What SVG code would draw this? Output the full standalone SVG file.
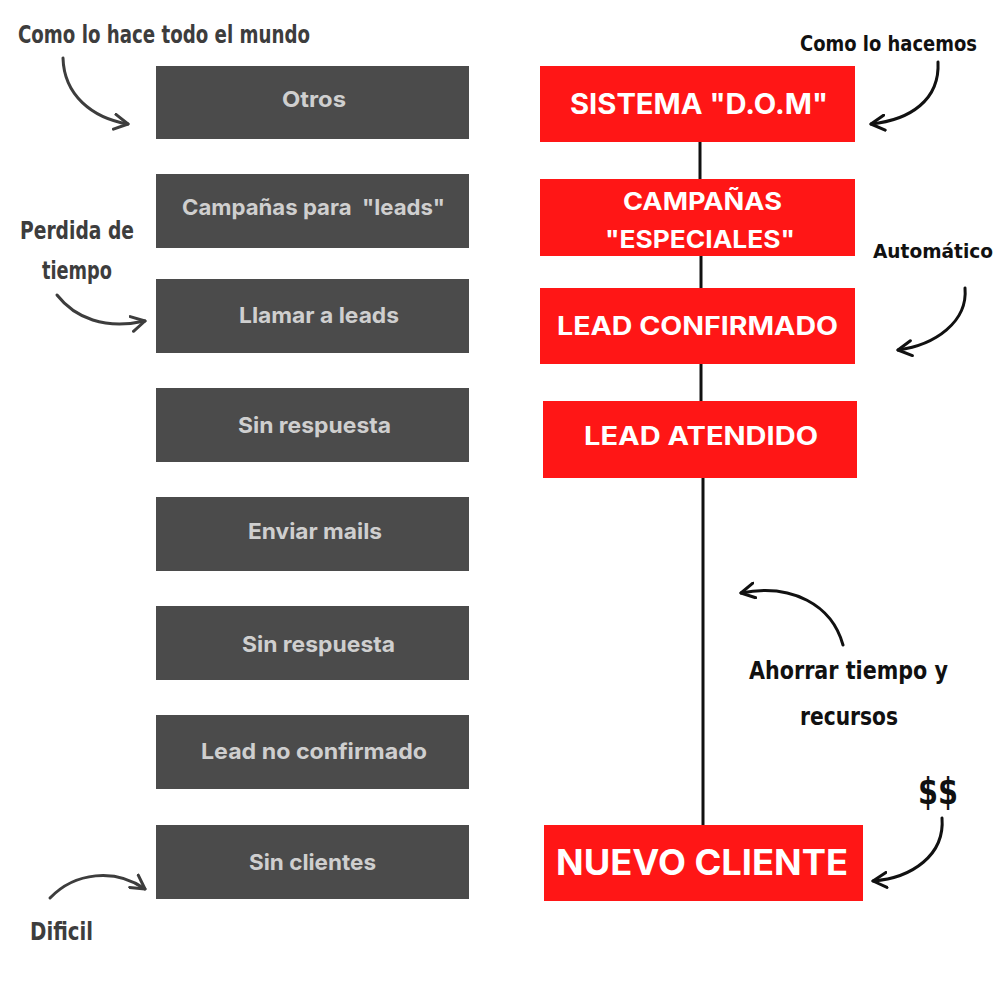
<svg xmlns="http://www.w3.org/2000/svg" width="1000" height="1000" viewBox="0 0 1000 1000">
<style>
.gbox{fill:#4b4b4b}
.gtxt{font-family:Inter,"Liberation Sans",sans-serif;font-weight:700;font-size:22px;fill:#cfcfcf;white-space:pre}
.rbox{fill:#ff1616}
.rtxt{font-family:Inter,"Liberation Sans",sans-serif;font-weight:700;fill:#ffffff}
.hand{font-family:"DejaVu Sans Condensed","DejaVu Sans",sans-serif;font-weight:700}
.hg{fill:#3d3d3d}
.hb{fill:#111111}
.conn{stroke:#111;stroke-width:3;fill:none}
.arr{fill:none;stroke-width:3;stroke-linecap:round}
.ag{stroke:#3d3d3d}
.ab{stroke:#111}
</style>
<defs>
<marker id="mg" viewBox="0 0 12 12" refX="10" refY="6" markerWidth="6" markerHeight="6" orient="auto" markerUnits="strokeWidth">
<path d="M1,1 L10,6 L1,11" fill="none" stroke="#3d3d3d" stroke-width="2" stroke-linecap="round" stroke-linejoin="round"/>
</marker>
<marker id="mb" viewBox="0 0 12 12" refX="10" refY="6" markerWidth="6" markerHeight="6" orient="auto" markerUnits="strokeWidth">
<path d="M1,1 L10,6 L1,11" fill="none" stroke="#111" stroke-width="2" stroke-linecap="round" stroke-linejoin="round"/>
</marker>
</defs>
<rect width="1000" height="1000" fill="#ffffff"/>

<g id="connectors">
<line class="conn" x1="700" y1="142" x2="700" y2="179"/>
<line class="conn" x1="701" y1="256" x2="701" y2="288"/>
<line class="conn" x1="701" y1="364" x2="701" y2="401"/>
<line class="conn" x1="703" y1="478" x2="703" y2="825"/>
</g>

<g id="left-boxes">
<g id="g1"><rect class="gbox" x="156" y="66" width="313" height="73"/><text class="gtxt" x="282" y="107" textLength="64" lengthAdjust="spacingAndGlyphs">Otros</text></g>
<g id="g2"><rect class="gbox" x="156" y="174" width="313" height="74"/><text class="gtxt" x="182" y="215" textLength="263" lengthAdjust="spacingAndGlyphs">Campañas para  "leads"</text></g>
<g id="g3"><rect class="gbox" x="156" y="279" width="313" height="74"/><text class="gtxt" x="239" y="323" textLength="160" lengthAdjust="spacingAndGlyphs">Llamar a leads</text></g>
<g id="g4"><rect class="gbox" x="156" y="388" width="313" height="74"/><text class="gtxt" x="238" y="433" textLength="153" lengthAdjust="spacingAndGlyphs">Sin respuesta</text></g>
<g id="g5"><rect class="gbox" x="156" y="497" width="313" height="74"/><text class="gtxt" x="248" y="539" textLength="134" lengthAdjust="spacingAndGlyphs">Enviar mails</text></g>
<g id="g6"><rect class="gbox" x="156" y="606" width="313" height="74"/><text class="gtxt" x="242" y="652" textLength="153" lengthAdjust="spacingAndGlyphs">Sin respuesta</text></g>
<g id="g7"><rect class="gbox" x="156" y="715" width="313" height="74"/><text class="gtxt" x="201" y="759" textLength="226" lengthAdjust="spacingAndGlyphs">Lead no confirmado</text></g>
<g id="g8"><rect class="gbox" x="156" y="825" width="313" height="74"/><text class="gtxt" x="249" y="870" textLength="127" lengthAdjust="spacingAndGlyphs">Sin clientes</text></g>
</g>

<g id="right-boxes">
<g id="r1"><rect class="rbox" x="540" y="66" width="315" height="76"/><text class="rtxt" x="570" y="114" font-size="28" textLength="258" lengthAdjust="spacingAndGlyphs">SISTEMA "D.O.M"</text></g>
<g id="r2"><rect class="rbox" x="540" y="179" width="315" height="77"/><text class="rtxt" x="623" y="210" font-size="24" textLength="159" lengthAdjust="spacingAndGlyphs">CAMPAÑAS</text><text class="rtxt" x="605" y="248" font-size="24" textLength="190" lengthAdjust="spacingAndGlyphs">"ESPECIALES"</text></g>
<g id="r3"><rect class="rbox" x="540" y="288" width="315" height="76"/><text class="rtxt" x="557" y="335" font-size="25" textLength="281" lengthAdjust="spacingAndGlyphs">LEAD CONFIRMADO</text></g>
<g id="r4"><rect class="rbox" x="543" y="401" width="314" height="77"/><text class="rtxt" x="584" y="445" font-size="25" textLength="234" lengthAdjust="spacingAndGlyphs">LEAD ATENDIDO</text></g>
<g id="r5"><rect class="rbox" x="544" y="825" width="319" height="76"/><text class="rtxt" x="556" y="875" font-size="35" textLength="292" lengthAdjust="spacingAndGlyphs">NUEVO CLIENTE</text></g>
</g>

<g id="annotations">
<text class="hand hg" x="18" y="43" font-size="24" textLength="292" lengthAdjust="spacingAndGlyphs">Como lo hace todo el mundo</text>
<text class="hand hg" x="20" y="239" font-size="24" textLength="114" lengthAdjust="spacingAndGlyphs">Perdida de</text>
<text class="hand hg" x="42" y="279" font-size="24" textLength="70" lengthAdjust="spacingAndGlyphs">tiempo</text>
<text class="hand hg" x="30" y="940" font-size="24" textLength="63" lengthAdjust="spacingAndGlyphs">Dificil</text>
<text class="hand hb" x="800" y="51" font-size="21" textLength="177" lengthAdjust="spacingAndGlyphs">Como lo hacemos</text>
<text class="hand hb" x="873" y="258" font-size="20" textLength="120" lengthAdjust="spacingAndGlyphs">Automático</text>
<text class="hand hb" x="749" y="679" font-size="24" textLength="199" lengthAdjust="spacingAndGlyphs">Ahorrar tiempo y</text>
<text class="hand hb" x="800" y="725" font-size="24" textLength="98" lengthAdjust="spacingAndGlyphs">recursos</text>
<text class="hand hb" x="918" y="804" font-size="38" textLength="40" lengthAdjust="spacingAndGlyphs">$$</text>
</g>

<g id="arrows">
<path class="arr ag" d="M63,58 C64,95 92,118 128,124" marker-end="url(#mg)"/>
<path class="arr ag" d="M57,295 C75,318 105,330 145,321" marker-end="url(#mg)"/>
<path class="arr ag" d="M50,898 C75,872 115,868 145,889" marker-end="url(#mg)"/>
<path class="arr ab" d="M938,62 C940,100 910,120 871,124" marker-end="url(#mb)"/>
<path class="arr ab" d="M965,288 C968,322 935,345 898,350" marker-end="url(#mb)"/>
<path class="arr ab" d="M843,645 C832,605 792,583 741,593" marker-end="url(#mb)"/>
<path class="arr ab" d="M942,818 C945,855 912,878 873,881" marker-end="url(#mb)"/>
</g>
</svg>
